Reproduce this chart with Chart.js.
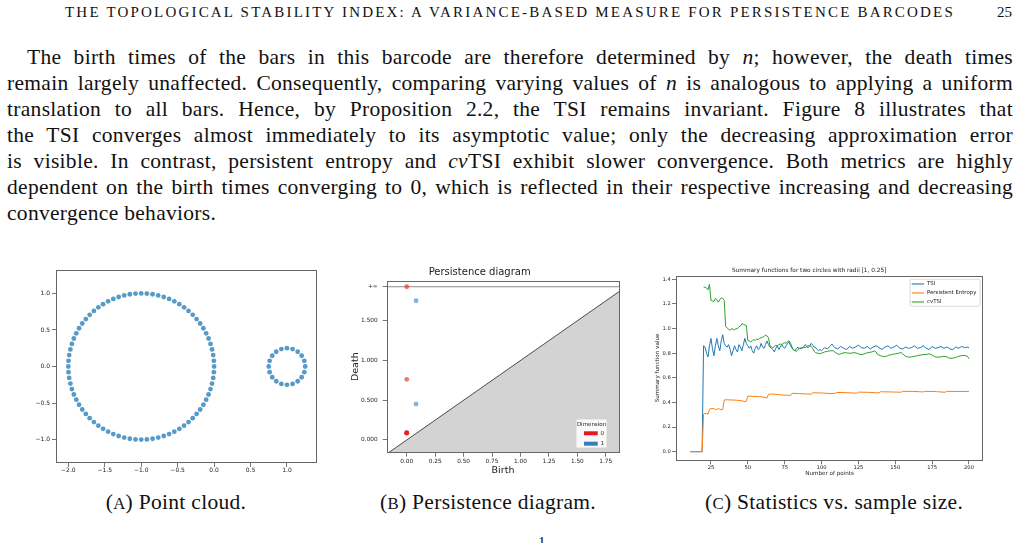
<!DOCTYPE html>
<html>
<head>
<meta charset="utf-8">
<script src="https://cdn.jsdelivr.net/npm/chart.js@4.4.1/dist/chart.umd.min.js"></script>
<style>
  html, body { margin: 0; padding: 0; background: #fff; }
  body { width: 1019px; height: 543px; overflow: hidden; position: relative;
         font-family: "Liberation Serif", "DejaVu Serif", serif; color: #111; }
  .abs { position: absolute; white-space: nowrap; }
  .line { font-size: 21.5px; line-height: 22px; letter-spacing: 0.3px; }
  .head { font-size: 15px; line-height: 16px; }
  .cap { font-size: 21.5px; line-height: 22px; letter-spacing: 0.3px; }
  .sc { font-size: 0.78em; }
  canvas { position: absolute; }
</style>
</head>
<body>

<div class="abs head fit-ls" id="header" style="left:65px; top:4px;" data-w="890">THE TOPOLOGICAL STABILITY INDEX: A VARIANCE-BASED MEASURE FOR PERSISTENCE BARCODES</div>
<div class="abs head" style="left:997px; top:4px;">25</div>

<div class="abs line fit" style="left:27px; top:46px;" data-w="986">The birth times of the bars in this barcode are therefore determined by <i>n</i>; however, the death times</div>
<div class="abs line fit" style="left:7px; top:72px;" data-w="1006">remain largely unaffected. Consequently, comparing varying values of <i>n</i> is analogous to applying a uniform</div>
<div class="abs line fit" style="left:7px; top:98px;" data-w="1006">translation to all bars. Hence, by Proposition 2.2, the TSI remains invariant. Figure 8 illustrates that</div>
<div class="abs line fit" style="left:7px; top:124px;" data-w="1006">the TSI converges almost immediately to its asymptotic value; only the decreasing approximation error</div>
<div class="abs line fit" style="left:7px; top:150px;" data-w="1006">is visible. In contrast, persistent entropy and <i>cv</i>TSI exhibit slower convergence. Both metrics are highly</div>
<div class="abs line fit" style="left:7px; top:176px;" data-w="1006">dependent on the birth times converging to 0, which is reflected in their respective increasing and decreasing</div>
<div class="abs line" style="left:7px; top:202px;">convergence behaviors.</div>

<canvas id="cA" width="305" height="222" style="left:20px; top:262px;"></canvas>
<canvas id="cB" width="290" height="220" style="left:340px; top:262px;"></canvas>
<canvas id="cC" width="380" height="225" style="left:635px; top:262px;"></canvas>

<div class="abs cap" id="capA" style="top:491px;">(<span class="sc">A</span>) Point cloud.</div>
<div class="abs cap" id="capB" style="top:491px;">(<span class="sc">B</span>) Persistence diagram.</div>
<div class="abs cap" id="capC" style="top:491px;">(<span class="sc">C</span>) Statistics vs. sample size.</div>
<div class="abs" style="left:538px; top:534px; font-size:15px;">1</div>

<script>
// (a) nube de puntos: circunferencia grande (centro -1, radio 1) y pequeña (centro 1, radio 0.25)
const bigX = [0, -0.003, -0.012, -0.028, -0.049, -0.076, -0.109, -0.147, -0.191, -0.240, -0.293, -0.351, -0.412, -0.477, -0.546, -0.617, -0.691, -0.767, -0.844, -0.922, -1,
  -1.078, -1.156, -1.233, -1.309, -1.383, -1.454, -1.523, -1.588, -1.649, -1.707, -1.760, -1.809, -1.853, -1.891, -1.924, -1.951, -1.972, -1.988, -1.997, -2,
  -1.997, -1.988, -1.972, -1.951, -1.924, -1.891, -1.853, -1.809, -1.760, -1.707, -1.649, -1.588, -1.523, -1.454, -1.383, -1.309, -1.233, -1.156, -1.078, -1,
  -0.922, -0.844, -0.767, -0.691, -0.617, -0.546, -0.477, -0.412, -0.351, -0.293, -0.240, -0.191, -0.147, -0.109, -0.076, -0.049, -0.028, -0.012, -0.003];
const bigY = [0, 0.078, 0.156, 0.233, 0.309, 0.383, 0.454, 0.523, 0.588, 0.649, 0.707, 0.760, 0.809, 0.853, 0.891, 0.924, 0.951, 0.972, 0.988, 0.997, 1,
  0.997, 0.988, 0.972, 0.951, 0.924, 0.891, 0.853, 0.809, 0.760, 0.707, 0.649, 0.588, 0.523, 0.454, 0.383, 0.309, 0.233, 0.156, 0.078, 0,
  -0.078, -0.156, -0.233, -0.309, -0.383, -0.454, -0.523, -0.588, -0.649, -0.707, -0.760, -0.809, -0.853, -0.891, -0.924, -0.951, -0.972, -0.988, -0.997, -1,
  -0.997, -0.988, -0.972, -0.951, -0.924, -0.891, -0.853, -0.809, -0.760, -0.707, -0.649, -0.588, -0.523, -0.454, -0.383, -0.309, -0.233, -0.156, -0.078];
const smallX = [1.25, 1.238, 1.202, 1.147, 1.077, 1, 0.923, 0.853, 0.798, 0.762, 0.75, 0.762, 0.798, 0.853, 0.923, 1, 1.077, 1.147, 1.202, 1.238];
const smallY = [0, 0.077, 0.147, 0.202, 0.238, 0.25, 0.238, 0.202, 0.147, 0.077, 0, -0.077, -0.147, -0.202, -0.238, -0.25, -0.238, -0.202, -0.147, -0.077];
const ticksAx = [-2, -1.5, -1, -0.5, 0, 0.5, 1];
const ticksAy = [-1, -0.5, 0, 0.5, 1];

// (b) diagrama de persistencia
const birthH0 = [0, 0, 0, 0, 0, 0];
const deathH0 = [Infinity, 0.763, 0.092, 0.090, 0.088, 0.086];
const birthH1 = [0.082, 0.082];
const deathH1 = [1.752, 0.453];
const infLevel = 1.928;
const dims = ['0', '1'];
const ticksBx = [0, 0.25, 0.5, 0.75, 1, 1.25, 1.5, 1.75];
const ticksBy = [0, 0.5, 1, 1.5, infLevel];

// (c) funciones resumen vs numero de puntos
const tsiN = [11, 19,
  20, 21, 22, 23, 24, 25, 26, 27, 28, 29, 30, 31, 32, 33, 34, 35, 36, 37, 38, 39,
  40, 41, 42, 43, 44, 45, 46, 47, 48, 49, 50, 51, 52, 53, 54, 55, 56, 57, 58, 59,
  60, 61, 62, 63, 64, 65, 66, 67, 68, 69, 70, 71, 72, 73, 74, 75, 76, 77, 78, 79,
  80, 81, 82, 83, 84, 85, 86, 87, 88, 89, 90, 91, 92, 93, 94, 95, 96, 97, 98, 99, 100,
  102, 104, 106, 107, 109, 111, 113, 115, 117, 119, 121, 123, 125, 127, 129, 131, 133, 135, 137, 139,
  141, 143, 145, 147, 149, 151, 153, 155, 157, 159, 161, 163, 165, 167, 169, 171, 173, 175, 177, 179,
  181, 183, 185, 187, 189, 191, 193, 195, 197, 199, 200];
const tsiVal = [0, 0,
  0.86, 0.85, 0.80, 0.77, 0.86, 0.92, 0.84, 0.78, 0.86, 0.92, 0.86, 0.82, 0.90, 0.95, 0.88, 0.86, 0.85, 0.87, 0.83, 0.78,
  0.82, 0.86, 0.83, 0.81, 0.87, 0.85, 0.82, 0.87, 0.92, 0.88, 0.86, 0.84, 0.86, 0.82, 0.80, 0.84, 0.86, 0.83, 0.84, 0.88,
  0.85, 0.84, 0.87, 0.90, 0.87, 0.85, 0.84, 0.83, 0.81, 0.84, 0.86, 0.83, 0.85, 0.87, 0.85, 0.84, 0.86, 0.88, 0.89, 0.86,
  0.84, 0.83, 0.82, 0.84, 0.85, 0.835, 0.845, 0.84, 0.855, 0.87, 0.85, 0.845, 0.86, 0.88, 0.865, 0.85, 0.845, 0.83, 0.82, 0.83, 0.82,
  0.845, 0.835, 0.86, 0.875, 0.845, 0.835, 0.855, 0.84, 0.83, 0.855, 0.84, 0.85, 0.865, 0.845, 0.84, 0.855, 0.835, 0.85, 0.86, 0.845,
  0.83, 0.85, 0.86, 0.84, 0.85, 0.865, 0.84, 0.835, 0.85, 0.84, 0.845, 0.86, 0.84, 0.845, 0.86, 0.84, 0.83, 0.855, 0.84, 0.845,
  0.855, 0.84, 0.85, 0.835, 0.83, 0.85, 0.84, 0.855, 0.845, 0.85, 0.843];

const peN = [11, 19, 20, 21, 22, 23, 24, 25, 27, 28, 29, 30, 31, 32, 33, 34, 36, 38, 40, 43,
  46, 48, 49, 50, 54, 58, 61, 63, 64, 66, 70, 74, 77, 79, 80, 85, 90, 93, 94, 100,
  105, 109, 110, 116, 122, 124, 125, 132, 138, 139, 140, 148, 153, 154, 155, 162, 168, 169, 170, 178,
  183, 184, 185, 193, 200];
const peVal = [0, 0, 0.305, 0.31, 0.31, 0.305, 0.345, 0.35, 0.35, 0.342, 0.345, 0.35, 0.345, 0.34, 0.342, 0.42, 0.422, 0.42, 0.42, 0.417,
  0.414, 0.406, 0.41, 0.452, 0.449, 0.447, 0.442, 0.436, 0.466, 0.468, 0.465, 0.46, 0.458, 0.457, 0.474, 0.472, 0.469, 0.467, 0.478, 0.477,
  0.473, 0.472, 0.481, 0.48, 0.476, 0.475, 0.484, 0.482, 0.478, 0.478, 0.487, 0.485, 0.483, 0.483, 0.49, 0.49, 0.486, 0.486, 0.49, 0.488,
  0.483, 0.484, 0.49, 0.489, 0.49];

const cvN = [20, 21, 22, 23, 24, 25, 26, 27, 28, 29, 30, 31, 32, 33, 34, 35, 36, 37, 38, 39,
  40, 41, 42, 43, 44, 45, 46, 47, 48, 49, 50, 51, 52, 53, 54, 55, 56, 57, 58, 59,
  60, 61, 62, 63, 64, 65, 66, 67, 68, 69, 70, 71, 72, 73, 74, 75, 76, 77, 78, 79,
  80, 81, 82, 83, 84, 85, 86, 87, 88, 89, 90, 91, 92, 93, 94, 95, 96, 97, 98, 99, 100,
  102, 104, 106, 108, 110, 112, 114, 116, 118, 120, 122, 124, 126, 128, 130, 132, 134, 136, 137, 138,
  140, 142, 144, 146, 148, 150, 152, 154, 155, 157, 159, 161, 163, 165, 167, 169, 171, 173, 175, 177,
  179, 181, 183, 185, 187, 189, 191, 193, 195, 197, 199, 200];
const cvVal = [1.34, 1.335, 1.33, 1.315, 1.36, 1.23, 1.225, 1.22, 1.245, 1.235, 1.215, 1.235, 1.25, 1.245, 1.23, 1.015, 1.005, 0.995, 0.985, 1.0,
  0.995, 0.99, 1.0, 1.0, 1.015, 1.02, 1.04, 1.035, 1.03, 1.025, 0.905, 0.9, 0.89, 0.905, 0.91, 0.905, 0.915, 0.91, 0.92, 0.925,
  0.93, 0.935, 0.948, 0.94, 0.925, 0.86, 0.852, 0.845, 0.855, 0.865, 0.86, 0.87, 0.875, 0.87, 0.88, 0.885, 0.88, 0.895, 0.9, 0.88,
  0.85, 0.825, 0.82, 0.815, 0.83, 0.84, 0.835, 0.845, 0.848, 0.845, 0.855, 0.86, 0.862, 0.855, 0.84, 0.815, 0.805, 0.8, 0.8, 0.795, 0.8,
  0.81, 0.815, 0.82, 0.82, 0.80, 0.79, 0.80, 0.805, 0.80, 0.80, 0.805, 0.80, 0.79, 0.79, 0.80, 0.805, 0.81, 0.818, 0.81, 0.79,
  0.78, 0.772, 0.775, 0.785, 0.79, 0.795, 0.80, 0.805, 0.795, 0.775, 0.768, 0.77, 0.775, 0.78, 0.785, 0.788, 0.79, 0.795, 0.785, 0.77,
  0.768, 0.77, 0.775, 0.77, 0.758, 0.76, 0.765, 0.775, 0.78, 0.782, 0.775, 0.755];
const ticksCx = [25, 50, 75, 100, 125, 150, 175, 200];
const ticksCy = [0, 0.2, 0.4, 0.6, 0.8, 1.0, 1.2, 1.4];
const seriesC = ['TSI', 'Persistent Entropy', 'cvTSI'];
const colorsC = ['#1f77b4', '#ff7f0e', '#2ca02c'];

// ---- texto: ajustar cada linea al ancho de la caja
document.querySelectorAll('.fit').forEach(el => {
  const w = el.getBoundingClientRect().width;
  const spaces = (el.textContent.match(/ /g) || []).length;
  el.style.wordSpacing = ((+el.dataset.w - w) / spaces) + 'px';
});
document.querySelectorAll('.fit-ls').forEach(el => {
  const w = el.getBoundingClientRect().width;
  el.style.letterSpacing = ((+el.dataset.w - w) / el.textContent.length) + 'px';
});
[['capA', 176], ['capB', 488], ['capC', 834]].forEach(([id, cx]) => {
  const el = document.getElementById(id);
  el.style.left = (cx - el.getBoundingClientRect().width / 2) + 'px';
});

// ---- helpers
const pts = (xs, ys) => xs.map((x, i) => ({ x: x, y: ys[i] }));
const minus = s => s.replace('-', '\u2212');
const SANS = 'DejaVu Sans';

// marco completo alrededor del area (estilo matplotlib)
const frame = {
  id: 'frame',
  afterDatasetsDraw(chart) {
    const { ctx, chartArea: a } = chart;
    ctx.save();
    ctx.strokeStyle = '#666';
    ctx.lineWidth = 1;
    ctx.strokeRect(Math.round(a.left) + 0.5, Math.round(a.top) + 0.5,
      Math.round(a.right - a.left) - 1, Math.round(a.bottom - a.top) - 1);
    ctx.restore();
  }
};

const axisCfg = (min, max, ticks, fmt, size, fontSize, pad, title) => ({
  type: 'linear', min: min, max: max,
  border: { display: false },
  grid: { drawOnChartArea: false, drawTicks: true, tickLength: 4, color: '#555', lineWidth: 0.8 },
  ticks: { font: { family: SANS, size: fontSize }, color: '#222', padding: pad,
           autoSkip: false, maxRotation: 0, minRotation: 0, callback: fmt },
  title: title || { display: false },
  afterBuildTicks: s => { s.ticks = ticks.map(v => ({ value: v })); },
  afterFit: s => { if (s.isHorizontal()) s.height = size; else s.width = size; }
});

const base = {
  animation: false, responsive: false, devicePixelRatio: 1,
  events: []
};

// ---- (a)
const dotA = 'rgba(31,119,180,0.75)';
new Chart(document.getElementById('cA'), {
  type: 'scatter',
  data: { datasets: [
    { data: pts(bigX, bigY), backgroundColor: dotA, borderWidth: 0, pointRadius: 2.4 },
    { data: pts(smallX, smallY), backgroundColor: dotA, borderWidth: 0, pointRadius: 2.4 }
  ] },
  options: Object.assign({}, base, {
    layout: { padding: { left: 0, right: 8, top: 8, bottom: 0 } },
    plugins: { legend: { display: false }, tooltip: { enabled: false } },
    scales: {
      x: axisCfg(-2.169, 1.412, ticksAx, v => minus(v.toFixed(1)), 21, 6, 0),
      y: axisCfg(-1.32, 1.32, ticksAy, v => minus(v.toFixed(1)), 36, 6, 2)
    }
  }),
  plugins: [frame]
});

// ---- (b)
const red = 'rgba(228,26,28,0.6)', blue = 'rgba(55,126,184,0.6)';
const dimColors = ['#e41a1c', '#377eb8'];
const xMinB = -0.176, xMaxB = 1.869;
const fin = d => (d === Infinity ? infLevel : d);

const dimLegend = {
  id: 'dimLegend',
  afterDraw(chart) {
    const { ctx, chartArea: a } = chart;
    const w = 31, h = 29;
    const x0 = a.right - 12.3 - w, y0 = a.bottom - 4.7 - h;
    ctx.save();
    ctx.fillStyle = 'rgba(255,255,255,0.85)';
    ctx.strokeStyle = '#d0d0d0';
    ctx.lineWidth = 0.8;
    ctx.beginPath();
    ctx.roundRect(x0, y0, w, h, 1.5);
    ctx.fill(); ctx.stroke();
    ctx.font = '5.5px "' + SANS + '"';
    ctx.fillStyle = '#222';
    ctx.textAlign = 'center'; ctx.textBaseline = 'middle';
    ctx.fillText('Dimension', x0 + w / 2, y0 + 5.5);
    dims.forEach((d, i) => {
      ctx.fillStyle = dimColors[i];
      ctx.fillRect(x0 + 8, y0 + 12.3 + i * 10.4, 13.7, 4);
      ctx.fillStyle = '#222';
      ctx.textAlign = 'left';
      ctx.fillText(d, x0 + 24.5, y0 + 14.5 + i * 10.4);
    });
    ctx.restore();
  }
};

new Chart(document.getElementById('cB'), {
  type: 'scatter',
  data: { datasets: [
    { data: birthH0.map((b, i) => ({ x: b, y: fin(deathH0[i]) })), backgroundColor: red, borderWidth: 0, pointRadius: 2.4, order: 0 },
    { data: birthH1.map((b, i) => ({ x: b, y: fin(deathH1[i]) })), backgroundColor: blue, borderWidth: 0, pointRadius: 2.4, order: 0 },
    { type: 'line', data: [{ x: xMinB, y: infLevel }, { x: xMaxB, y: infLevel }], borderColor: 'rgba(0,0,0,0.45)',
      borderWidth: 1, pointRadius: 0, fill: false, order: 1 },
    { type: 'line', data: [{ x: xMinB, y: xMinB }, { x: xMaxB, y: xMaxB }], borderColor: '#222', borderWidth: 0.8,
      backgroundColor: '#d3d3d3', pointRadius: 0, fill: 'start', order: 2 }
  ] },
  options: Object.assign({}, base, {
    layout: { padding: { left: 0, right: 10.7, top: 0, bottom: 0 } },
    plugins: {
      legend: { display: false }, tooltip: { enabled: false },
      title: { display: true, text: 'Persistence diagram', color: '#222',
               font: { family: SANS, size: 10, weight: 'normal' }, padding: { top: 4.7, bottom: 2 } }
    },
    scales: {
      x: axisCfg(xMinB, xMaxB, ticksBx, v => v.toFixed(2), 29.3, 5.8, 1,
        { display: true, text: 'Birth', color: '#222', font: { family: SANS, size: 9.5 }, padding: { top: 0, bottom: 5.3 } }),
      y: axisCfg(-0.16, 2.004, ticksBy, v => (v === infLevel ? '+\u221e' : v.toFixed(3)), 46.7, 5.8, 5,
        { display: true, text: 'Death', color: '#222', font: { family: SANS, size: 9.5 }, padding: { top: 10.3, bottom: 0 } })
    }
  }),
  plugins: [frame, dimLegend]
});

// ---- (c)
const legendC = {
  id: 'legendC',
  afterDraw(chart) {
    const { ctx, chartArea: a } = chart;
    const w = 70, h = 27;
    const x0 = a.right - 3.3 - w, y0 = a.top + 3.6;
    ctx.save();
    ctx.fillStyle = 'rgba(255,255,255,0.85)';
    ctx.strokeStyle = '#d0d0d0';
    ctx.lineWidth = 0.8;
    ctx.beginPath();
    ctx.roundRect(x0, y0, w, h, 1.5);
    ctx.fill(); ctx.stroke();
    ctx.font = '5.4px "' + SANS + '"';
    ctx.textBaseline = 'middle';
    seriesC.forEach((s, i) => {
      const y = y0 + 4.7 + i * 9;
      ctx.strokeStyle = colorsC[i];
      ctx.lineWidth = 1.1;
      ctx.beginPath(); ctx.moveTo(x0 + 1.7, y); ctx.lineTo(x0 + 14, y); ctx.stroke();
      ctx.fillStyle = '#222';
      ctx.fillText(s, x0 + 17, y);
    });
    ctx.restore();
  }
};

const lineDs = (label, xs, ys, color, order) => ({
  type: 'line', label: label, data: pts(xs, ys), borderColor: color, borderWidth: 1,
  pointRadius: 0, fill: false, tension: 0, order: order
});

new Chart(document.getElementById('cC'), {
  type: 'line',
  data: { datasets: [
    lineDs(seriesC[0], tsiN, tsiVal, colorsC[0], 2),
    lineDs(seriesC[1], peN, peVal, colorsC[1], 1),
    lineDs(seriesC[2], cvN, cvVal, colorsC[2], 0)
  ] },
  options: Object.assign({}, base, {
    layout: { padding: { left: 0, right: 31.7, top: 0, bottom: 0 } },
    plugins: {
      legend: { display: false }, tooltip: { enabled: false },
      title: { display: true, text: 'Summary functions for two circles with radii [1, 0.25]', color: '#222',
               font: { family: SANS, size: 5.8, weight: 'normal' }, padding: { top: 5.1, bottom: 1.6 } }
    },
    scales: {
      x: axisCfg(1.3, 209.7, ticksCx, v => String(v), 26.7, 5.2, 0,
        { display: true, text: 'Number of points', color: '#222', font: { family: SANS, size: 5.6 }, padding: { top: 0, bottom: 9.6 } }),
      y: axisCfg(-0.07, 1.43, ticksCy, v => v.toFixed(1), 41, 5.2, 1.3,
        { display: true, text: 'Summary function value', color: '#222', font: { family: SANS, size: 5.6 }, padding: { top: 19.6, bottom: 0 } })
    }
  }),
  plugins: [frame, legendC]
});
</script>
</body>
</html>
